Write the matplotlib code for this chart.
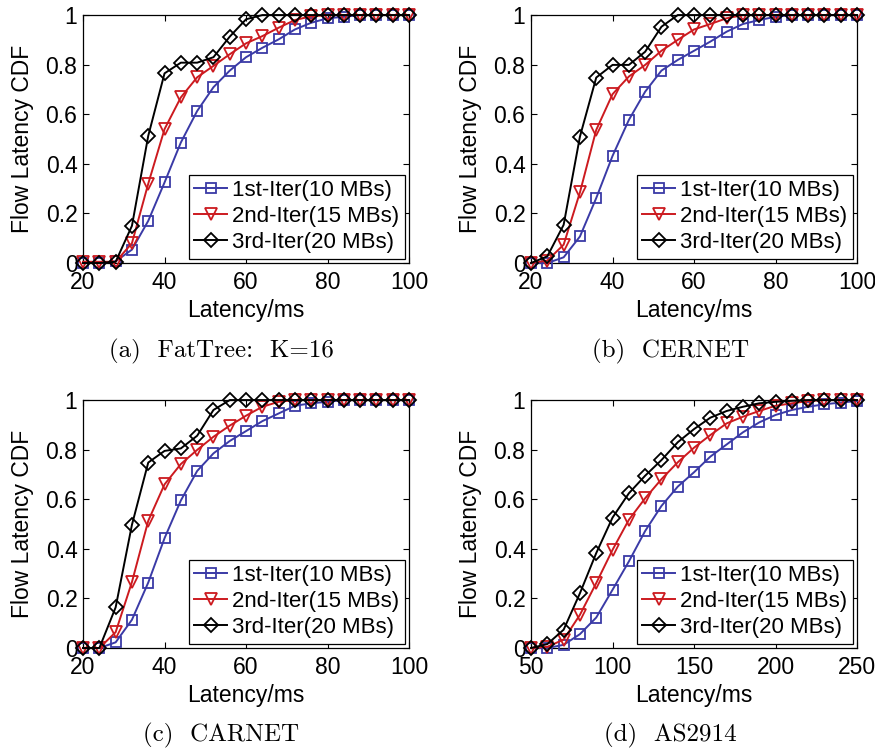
import matplotlib
matplotlib.use("Agg")
import matplotlib.pyplot as plt

plt.rcParams['font.family'] = ['Liberation Sans', 'DejaVu Sans']

# latency sample points (ms)
lat_small = [20, 24, 28, 32, 36, 40, 44, 48, 52, 56, 60, 64, 68, 72, 76, 80, 84, 88, 92, 96, 100]
lat_as2914 = [50, 60, 70, 80, 90, 100, 110, 120, 130, 140, 150, 160, 170, 180, 190, 200, 210, 220, 230, 240, 250]

# (a) FatTree K=16
fattree_1st = [0, 0, 0.007, 0.054, 0.17, 0.325, 0.486, 0.613, 0.709, 0.776, 0.83, 0.868, 0.902, 0.942, 0.969, 0.987, 0.993, 1, 1, 1, 1]
fattree_2nd = [0.005, 0.005, 0.005, 0.08, 0.32, 0.54, 0.668, 0.749, 0.795, 0.842, 0.886, 0.915, 0.949, 0.98, 0.995, 1, 1, 1, 1, 1, 1]
fattree_3rd = [0, 0, 0.005, 0.15, 0.513, 0.765, 0.808, 0.808, 0.83, 0.913, 0.983, 1, 1, 1, 1, 1, 1, 1, 1, 1, 1]

# (b) CERNET
cernet_1st = [0, 0, 0.023, 0.107, 0.262, 0.432, 0.577, 0.691, 0.776, 0.819, 0.856, 0.893, 0.933, 0.964, 0.98, 0.993, 1, 1, 1, 1, 1]
cernet_2nd = [0, 0.01, 0.074, 0.285, 0.537, 0.681, 0.752, 0.799, 0.856, 0.9, 0.942, 0.964, 0.987, 1, 1, 1, 1, 1, 1, 1, 1]
cernet_3rd = [0, 0.027, 0.154, 0.51, 0.748, 0.799, 0.799, 0.852, 0.953, 1, 1, 1, 1, 1, 1, 1, 1, 1, 1, 1, 1]

# (c) CARNET
carnet_1st = [0, 0, 0.023, 0.114, 0.264, 0.443, 0.595, 0.714, 0.785, 0.835, 0.875, 0.915, 0.946, 0.977, 0.987, 0.993, 1, 1, 1, 1, 1]
carnet_2nd = [0, 0, 0.064, 0.266, 0.513, 0.66, 0.742, 0.799, 0.852, 0.897, 0.937, 0.973, 0.993, 1, 1, 1, 1, 1, 1, 1, 1]
carnet_3rd = [0, 0, 0.164, 0.497, 0.748, 0.795, 0.805, 0.856, 0.96, 1, 1, 1, 1, 1, 1, 1, 1, 1, 1, 1, 1]

# (d) AS2914
as2914_1st = [0, 0, 0.013, 0.056, 0.123, 0.235, 0.349, 0.472, 0.573, 0.651, 0.709, 0.772, 0.821, 0.87, 0.91, 0.94, 0.96, 0.973, 0.983, 0.99, 0.996]
as2914_2nd = [0, 0.005, 0.034, 0.134, 0.262, 0.396, 0.517, 0.604, 0.681, 0.749, 0.808, 0.859, 0.906, 0.933, 0.956, 0.977, 0.987, 0.996, 1, 1, 1]
as2914_3rd = [0, 0.016, 0.074, 0.221, 0.383, 0.526, 0.624, 0.695, 0.758, 0.83, 0.883, 0.929, 0.956, 0.973, 0.987, 0.993, 0.997, 1, 1, 1, 1]

series_labels = ["1st-Iter(10 MBs)", "2nd-Iter(15 MBs)", "3rd-Iter(20 MBs)"]
captions = ["(a)  FatTree:  K=16", "(b)  CERNET", "(c)  CARNET", "(d)  AS2914"]

yticks = [0, 0.2, 0.4, 0.6, 0.8, 1]
yticklabels = ["0", "0.2", "0.4", "0.6", "0.8", "1"]

panels = [
    (lat_small, [fattree_1st, fattree_2nd, fattree_3rd], [20, 100], [20, 40, 60, 80, 100]),
    (lat_small, [cernet_1st, cernet_2nd, cernet_3rd], [20, 100], [20, 40, 60, 80, 100]),
    (lat_small, [carnet_1st, carnet_2nd, carnet_3rd], [20, 100], [20, 40, 60, 80, 100]),
    (lat_as2914, [as2914_1st, as2914_2nd, as2914_3rd], [50, 250], [50, 100, 150, 200, 250]),
]

colors = ["#3a3aa6", "#cc1a1f", "black"]
markers = ["s", "v", "D"]
msizes = [7, 8.5, 7]

fig = plt.figure(figsize=(8.75, 7.53), dpi=100)

w, h = 0.3726, 0.3293
lefts = [0.0949, 0.6069, 0.0949, 0.6069]
bottoms = [0.6507, 0.6507, 0.1394, 0.1394]
cap_x = [0.253, 0.766, 0.253, 0.766]
cap_y = [0.516, 0.516, 0.006, 0.006]

for i, (x, ys, xlim, xticks) in enumerate(panels):
    ax = fig.add_axes([lefts[i], bottoms[i], w, h])
    for y, c, m, ms, lab in zip(ys, colors, markers, msizes, series_labels):
        ax.plot(x, y, color=c, lw=1.4, marker=m, ms=ms, mfc='none', mec=c,
                mew=1.3, label=lab, clip_on=False, zorder=3)
    ax.set_xlim(xlim)
    ax.set_ylim(0, 1)
    ax.set_xticks(xticks)
    ax.set_yticks(yticks)
    ax.set_yticklabels(yticklabels)
    ax.tick_params(direction='in', top=True, right=True, labelsize=16.5, length=4, width=0.8)
    ax.tick_params(axis='x', pad=6)
    ax.tick_params(axis='y', pad=4)
    for sp in ax.spines.values():
        sp.set_linewidth(0.9)
    ax.set_xlabel("Latency/ms", fontsize=16.5, labelpad=3)
    ax.set_ylabel("Flow Latency CDF", fontsize=16.5, labelpad=8)
    leg = ax.legend(loc='lower right', fontsize=16, fancybox=False, framealpha=1,
                    edgecolor='black', borderpad=0.25, labelspacing=0.22,
                    handlelength=1.5, handletextpad=0.2, borderaxespad=0.2)
    leg.get_frame().set_linewidth(0.9)
    fig.text(cap_x[i], cap_y[i], captions[i], family='cmr10', fontsize=18,
             ha='center', va='bottom')

fig.savefig("out.png", dpi=100)
